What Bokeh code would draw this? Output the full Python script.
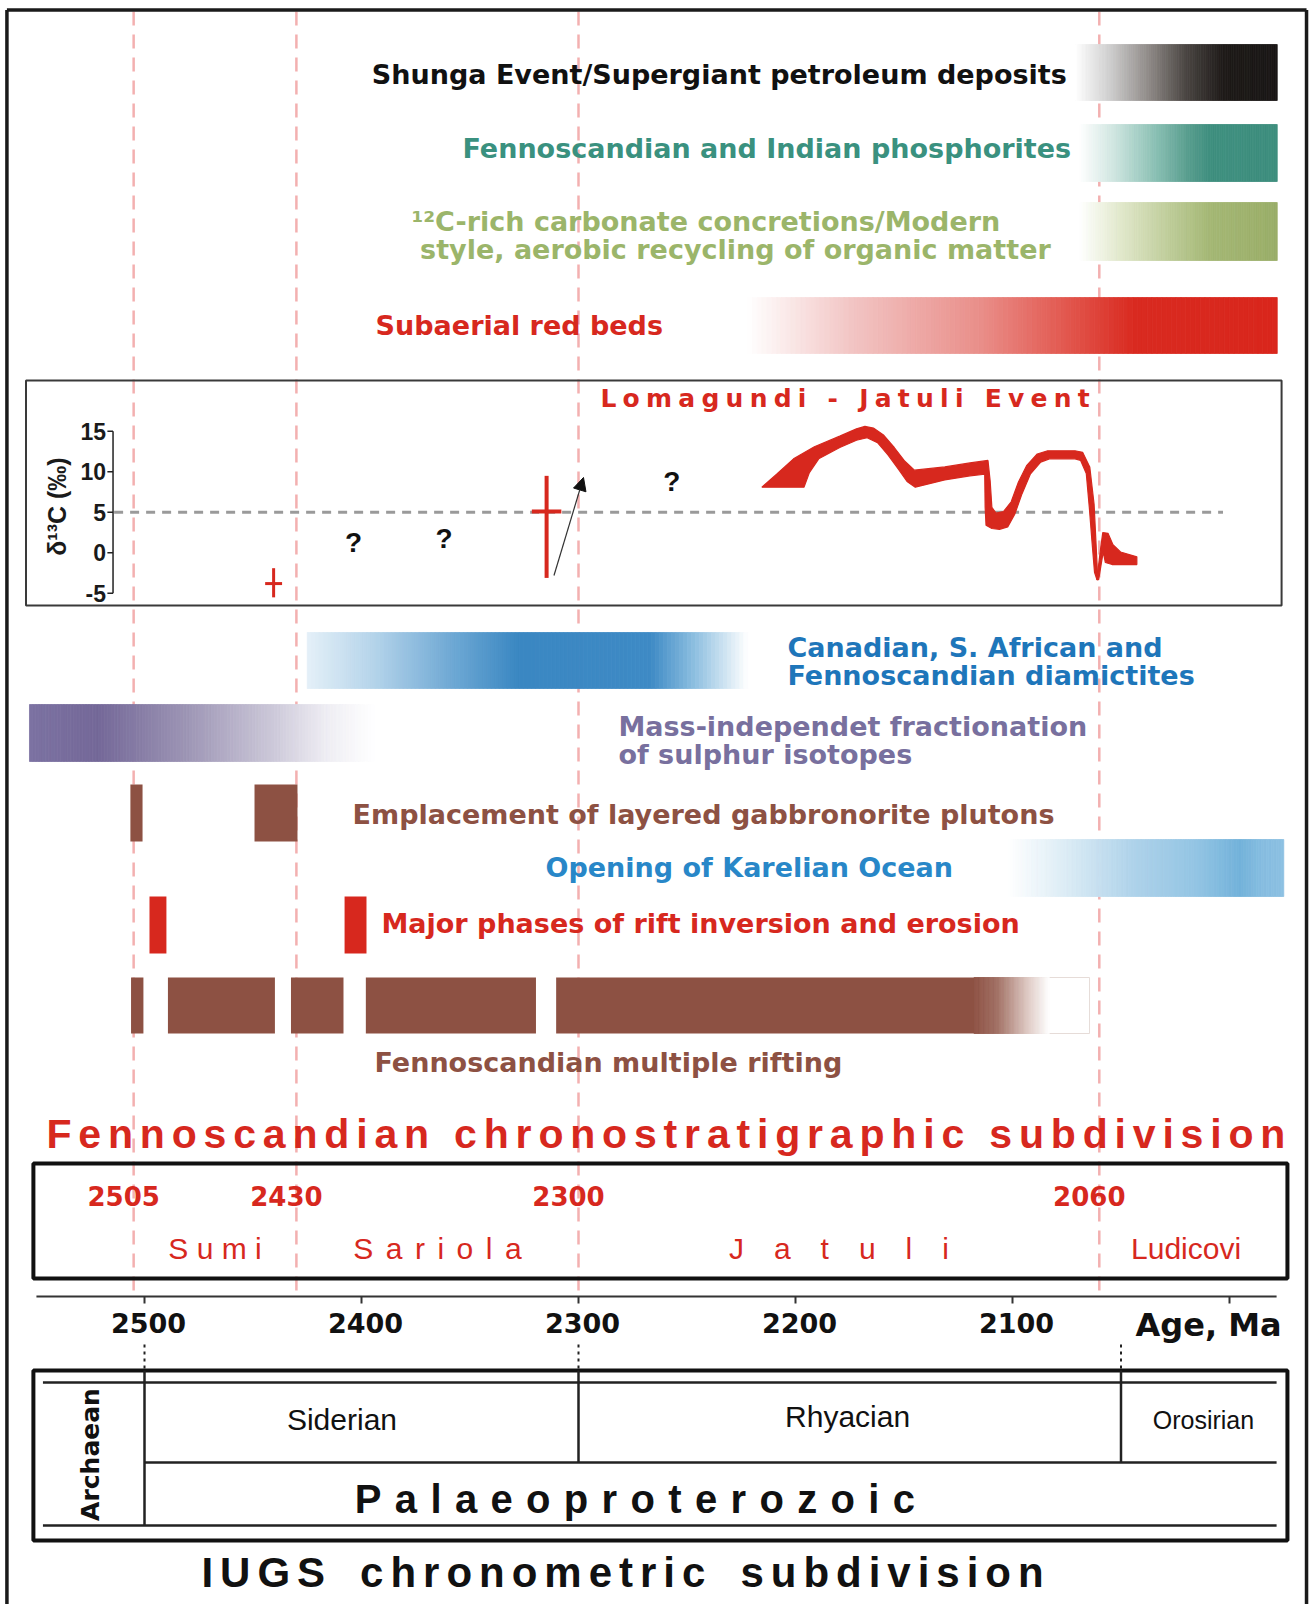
import numpy as np
from bokeh.plotting import figure
from bokeh.models import Range1d, Arrow, NormalHead
from bokeh.core.properties import value
from bokeh.embed import file_html
from bokeh.resources import INLINE

# ============================ DATA ============================
# Age axis (Ma)
age_ticks = [2500, 2400, 2300, 2200, 2100, 2000]
age_tick_labels = ["2500", "2400", "2300", "2200", "2100"]

# Fennoscandian chronostratigraphy
fenno_bounds = [2505, 2430, 2300, 2060]
fenno_bound_labels = ["2505", "2430", "2300", "2060"]
fenno_periods = ["Sumi", "Sariola", "Jatuli", "Ludicovi"]
fenno_period_limits = [2505, 2430, 2300, 2060, 1980]

# IUGS chronometric subdivision
iugs_bounds = [2500, 2300, 2050]
iugs_periods = ["Siderian", "Rhyacian", "Orosirian"]
iugs_period_centres = [2409, 2176, 2012]

# delta13C panel
d13c_ticks = [-5, 0, 5, 10, 15]
d13c_ref_level = 5
d13c_upper_age = [2215.5, 2208.7, 2200.9, 2191.3, 2179.6, 2171.9, 2168.0, 2164.1, 2159.3,
                  2154.5, 2149.6, 2145.2, 2131.2, 2119.6, 2111.3, 2110.3, 2109.5, 2107.6,
                  2104.1, 2100.6, 2097.3, 2093.4, 2088.6, 2083.8, 2071.2, 2067.7, 2064.4,
                  2062.4, 2061.5, 2060.7]
d13c_upper = [8.1, 9.7, 11.6, 13.1, 14.4, 15.3, 15.6, 15.4, 14.5, 13.0, 11.3, 10.2, 10.6,
              11.1, 11.4, 8.9, 5.6, 4.9, 5.1, 6.3, 8.7, 10.8, 12.2, 12.6, 12.6, 12.4, 10.6,
              6.0, 1.1, -3.3]
d13c_lower_age = [2215.5, 2196.1, 2193.6, 2189.3, 2179.6, 2171.9, 2167.0, 2162.2, 2157.4,
                  2152.5, 2148.6, 2144.8, 2131.2, 2119.6, 2112.8, 2112.6, 2112.2, 2109.5,
                  2106.0, 2102.2, 2098.9, 2095.6, 2091.8, 2087.0, 2083.0, 2071.2, 2068.6,
                  2066.0, 2064.6, 2063.4, 2062.2, 2061.1]
d13c_lower = [8.1, 8.1, 9.9, 11.6, 13.0, 13.9, 14.2, 13.6, 12.1, 10.3, 8.8, 8.1, 9.0,
              9.5, 9.7, 5.6, 3.4, 3.0, 2.9, 3.2, 4.8, 7.3, 9.7, 11.2, 11.6, 11.6, 11.4,
              9.8, 5.6, 1.5, -2.4, -3.3]
d13c_tail_age = [2061.1, 2059.5, 2058.4, 2056.0, 2053.7, 2050.2, 2042.7, 2042.7, 2054.1,
                 2057.2, 2058.2, 2060.3]
d13c_tail = [-3.3, 0.3, 2.5, 2.4, 1.0, 0.1, -0.5, -1.45, -1.45, -1.2, 0.1, -3.3]
cross_age = [2440.5, 2314.7]
cross_val = [-3.8, 5.1]
cross_lo = [-5.5, -3.1]
cross_hi = [-1.9, 9.5]
cross_halfwidth = [3.9, 6.8]
arrow_age = [2311.3, 2297.7]
arrow_val = [-2.8, 9.3]
query_age = [2403.7, 2362.0, 2257.0]
query_val = [1.3, 1.8, 8.8]

# event ranges (older age, younger age)
shunga_span = [2071, 1978]
phosphorite_span = [2069, 1978]
concretion_span = [2069, 1978]
redbed_span = [2222, 1978]
diamictite_span = [2425, 2222]
mif_span = [2553, 2394]
karelian_span = [2102, 1975]
gabbro_start = [2506.5, 2449.3]
gabbro_end = [2500.9, 2429.5]
inversion_start = [2497.7, 2407.8]
inversion_end = [2489.9, 2397.7]
rift_start = [2506.2, 2489.2, 2432.5, 2398.0, 2310.3]
rift_end = [2500.5, 2439.9, 2408.3, 2319.6, 2064.5]
rift_fade = [2117.7, 2083.0]

# ============================ LAYOUT / STYLE ============================
PX_PER_MA = 2.17
W, H = 1309, 1604
X_LEFT = 2500 + 144 / PX_PER_MA
X_RIGHT = X_LEFT - W / PX_PER_MA
Y_TOP, Y_BOT = 0, H
D_ZERO_ROW, D_ROW_PER_UNIT = 552.3, 8.1

RED = "#d7281e"
BROWN = "#8d5143"
BOLD = "DejaVu Sans"
ARIAL = "Liberation Sans"

p = figure(width=W, height=H, x_range=Range1d(X_LEFT, X_RIGHT), y_range=Range1d(Y_BOT, Y_TOP),
           output_backend="svg", toolbar_location=None, x_axis_location=None,
           y_axis_location=None, min_border=0, outline_line_color=None,
           background_fill_color="white", border_fill_color="white")
p.extra_y_ranges = {"d13c": Range1d((D_ZERO_ROW - Y_BOT) / D_ROW_PER_UNIT,
                                    (D_ZERO_ROW - Y_TOP) / D_ROW_PER_UNIT)}
p.xgrid.visible = False
p.ygrid.visible = False


def hex2rgb(c):
    return [int(c[i:i + 2], 16) for i in (1, 3, 5)]


def gradient_bar(span, top, bottom, stops, n=110):
    edges = np.linspace(span[0], span[1], n + 1)
    fr = [s[0] for s in stops]
    cols = np.array([hex2rgb(s[1]) for s in stops], float)
    t = (np.arange(n) + 0.5) / n
    colors = ["#%02x%02x%02x" % tuple(int(round(np.interp(ti, fr, cols[:, k]))) for k in range(3))
              for ti in t]
    p.quad(left=edges[:-1], right=edges[1:], top=top, bottom=bottom,
           fill_color=colors, line_color=colors, line_width=0.8)


def label(x, y, s, color, size, font=BOLD, style="bold", align="left", angle=0.0,
          yr="default", x_offset=0):
    p.text(x=[x], y=[y], text=[s], text_color=color, text_font=value(font),
           text_font_size=f"{size}px", text_font_style=style, text_align=align,
           text_baseline="middle", angle=angle, x_offset=x_offset, y_range_name=yr)


def spaced(s, sep, wsep):
    return wsep.join(sep.join(w) for w in s.split(" "))


# ---- pink dashed boundaries ----
p.segment(x0=fenno_bounds, y0=[Y_TOP + 11] * 4, x1=fenno_bounds, y1=[1296] * 4,
          line_color="#f3b0b0", line_width=2.5, line_dash="14 9")

# ---- outer frame ----
p.segment(x0=[2563.4, 2563.4, 1964.5], y0=[Y_BOT, 9.5, 9.5], x1=[2563.4, 1964.5, 1964.5],
          y1=[9.5, 9.5, Y_BOT], line_color="#1a1a1a", line_width=3.5)

# ---- top gradient bars ----
gradient_bar(shunga_span, 44, 100, [(0, "#ffffff"), (0.17, "#cfcfcf"), (0.38, "#8a8582"),
                                    (0.55, "#4a4542"), (0.74, "#1e1a18"), (1, "#1a1716")])
gradient_bar(phosphorite_span, 124, 181, [(0, "#ffffff"), (0.17, "#d0e6e1"), (0.38, "#8cc1b5"),
                                          (0.55, "#589d8e"), (0.66, "#3f8f7f"), (1, "#3e8e7e")])
gradient_bar(concretion_span, 202, 260, [(0, "#ffffff"), (0.2, "#e2e9cd"), (0.45, "#bfcd9a"),
                                         (0.66, "#a4b775"), (1, "#9aae68")])
gradient_bar(redbed_span, 297, 353, [(0, "#ffffff"), (0.2, "#f2c4c3"), (0.44, "#e98e89"),
                                     (0.6, "#e2584f"), (0.73, "#d92a20"), (1, "#d9261c")])

label(shunga_span[0] + 4, 74, "Shunga Event/Supergiant petroleum deposits", "#111111", 27,
      align="right")
label(phosphorite_span[0] + 4, 148, "Fennoscandian and Indian phosphorites", "#3a917f", 27,
      align="right")
label(2377, 221, "\u00b9\u00b2C-rich carbonate concretions/Modern", "#9bb56a", 27)
label(2373, 249, "style, aerobic recycling of organic matter", "#9bb56a", 27)
label(2393.5, 325, "Subaerial red beds", RED, 27)

# ---- delta13C panel ----
p.quad(left=2554.6, right=1976.0, top=380, bottom=605, fill_color=None,
       line_color="#3a3a3a", line_width=2)
label(2289.9, 398, spaced("Lomagundi - Jatuli Event", "\u2005", "\u2005 \u2005"), RED, 25)
p.segment(x0=[2514], y0=[d13c_ref_level], x1=[2003], y1=[d13c_ref_level],
          line_color="#9a9a9a", line_width=3, line_dash="9 7", y_range_name="d13c")
AX = 2514.5
p.segment(x0=[AX], y0=[min(d13c_ticks)], x1=[AX], y1=[max(d13c_ticks)], line_color="#222",
          line_width=1.5, y_range_name="d13c")
p.segment(x0=[AX] * len(d13c_ticks), y0=d13c_ticks, x1=[AX + 2.6] * len(d13c_ticks),
          y1=d13c_ticks, line_color="#222", line_width=1.5, y_range_name="d13c")
p.text(x=[AX] * len(d13c_ticks), y=d13c_ticks, text=[str(t) for t in d13c_ticks],
       text_color="#1a1a1a", text_font=value(ARIAL), text_font_size="23px",
       text_font_style="bold", text_align="right", text_baseline="middle", x_offset=-7,
       y_range_name="d13c")
label(2540.5, 5.7, "\u03b4\u00b9\u00b3C (\u2030)", "#1a1a1a", 25, font=ARIAL,
      angle=np.pi / 2, align="center", yr="d13c")

p.patch(x=d13c_upper_age + d13c_lower_age[::-1], y=d13c_upper + d13c_lower[::-1],
        fill_color=RED, line_color=RED, line_width=1.2, y_range_name="d13c")
p.patch(x=d13c_tail_age, y=d13c_tail, fill_color=RED, line_color=RED, line_width=1.2,
        y_range_name="d13c")
p.segment(x0=cross_age, y0=cross_lo, x1=cross_age, y1=cross_hi, line_color=RED,
          line_width=[3, 4], y_range_name="d13c")
p.segment(x0=[a + h for a, h in zip(cross_age, cross_halfwidth)], y0=cross_val,
          x1=[a - h for a, h in zip(cross_age, cross_halfwidth)], y1=cross_val,
          line_color=RED, line_width=[3, 4], y_range_name="d13c")
p.add_layout(Arrow(end=NormalHead(size=13, fill_color="#111", line_color="#111", line_width=1),
                   x_start=arrow_age[0], y_start=arrow_val[0], x_end=arrow_age[1],
                   y_end=arrow_val[1], line_color="#333", line_width=1.2,
                   y_range_name="d13c"))
p.text(x=query_age, y=query_val, text=["?"] * 3, text_color="#111",
       text_font=value(ARIAL), text_font_size="28px", text_font_style="bold",
       text_align="center", text_baseline="middle", y_range_name="d13c")

# ---- middle gradient bars ----
gradient_bar(diamictite_span, 632, 688, [(0, "#e4f0f8"), (0.15, "#b5d4ea"), (0.33, "#6ea8d4"),
                                         (0.48, "#3a87c2"), (0.78, "#3e8ac5"), (0.88, "#8dbfe0"),
                                         (1, "#ffffff")])
label(2203.7, 647, "Canadian, S. African and", "#1e76ba", 27)
label(2203.7, 675, "Fennoscandian diamictites", "#1e76ba", 27)

gradient_bar(mif_span, 704, 761, [(0, "#7c72a2"), (0.2, "#746898"), (0.45, "#9c94b4"),
                                  (0.7, "#cbc7d8"), (0.86, "#eeedf3"), (1, "#ffffff")])
label(2281.6, 726, "Mass-independet fractionation", "#78709e", 27)
label(2281.6, 754, "of sulphur isotopes", "#78709e", 27)

p.quad(left=gabbro_start, right=gabbro_end, top=784, bottom=841, fill_color=BROWN,
       line_color=None)
label(2404.1, 814, "Emplacement of layered gabbronorite plutons", BROWN, 27)

gradient_bar(karelian_span, 839, 896, [(0, "#ffffff"), (0.23, "#d8eaf4"), (0.46, "#aed2ea"),
                                       (0.69, "#92c4e3"), (0.84, "#72b2da"), (0.92, "#86bde0"),
                                       (1, "#8cc0e2")])
label(2315.2, 867, "Opening of Karelian Ocean", "#2887c8", 27)

p.quad(left=inversion_start, right=inversion_end, top=896, bottom=953, fill_color=RED,
       line_color=None)
label(2390.8, 923, "Major phases of rift inversion and erosion", RED, 27)

p.quad(left=[rift_fade[0]], right=[rift_end[-1]], top=977, bottom=1033, fill_color=None,
       line_color="#e6dcd8", line_width=1)
p.quad(left=rift_start[:-1] + [rift_start[-1]], right=rift_end[:-1] + [rift_fade[0]],
       top=977, bottom=1033, fill_color=BROWN, line_color=None)
gradient_bar(rift_fade, 977, 1033, [(0, BROWN), (0.3, "#a06e62"), (0.7, "#dcc6c0"),
                                    (1, "#ffffff")], n=60)
label(2394, 1062, "Fennoscandian multiple rifting", BROWN, 27)

# ---- Fennoscandian chronostratigraphic subdivision ----
label(2545.2, 1133, spaced("Fennoscandian chronostratigraphic subdivision", "\u2006",
                           "\u2006 \u2006"), RED, 41, font=ARIAL, style="bold")
p.quad(left=2551.2, right=1973.3, top=1163, bottom=1278, fill_color=None,
       line_color="#111", line_width=4)
p.text(x=fenno_bounds, y=[1195] * 4, text=fenno_bound_labels, text_color=RED,
       text_font=value(BOLD), text_font_size="26px", text_font_style="bold",
       text_align="center", text_baseline="middle", x_offset=-10)
period_seps = [" ", "\u2005\u2006", "\u2003", ""]
for i, name in enumerate(fenno_periods):
    mid = 0.5 * (fenno_period_limits[i] + fenno_period_limits[i + 1])
    label(mid, 1248, spaced(name, period_seps[i], " "), RED, 30, font=ARIAL, style="normal",
          align="center")

# ---- age axis ----
p.segment(x0=[2549.8], y0=[1296], x1=[1978.3], y1=[1296], line_color="#333", line_width=2)
p.segment(x0=age_ticks, y0=[1296] * 6, x1=age_ticks, y1=[1303] * 6, line_color="#333",
          line_width=2)
p.text(x=age_ticks[:len(age_tick_labels)], y=[1322] * len(age_tick_labels),
       text=age_tick_labels, text_color="#111", text_font=value(BOLD),
       text_font_size="27px", text_font_style="bold", text_align="center",
       text_baseline="middle", x_offset=4)
label(2043.3, 1324, "Age, Ma", "#111", 32)

# ---- IUGS chronometric subdivision ----
p.segment(x0=iugs_bounds, y0=[1344] * 3, x1=iugs_bounds, y1=[1370] * 3, line_color="#222",
          line_width=2, line_dash="3 4")
p.quad(left=2551.2, right=1973.3, top=1370, bottom=1540, fill_color=None, line_color="#111",
       line_width=4)
p.segment(x0=[2546.8, 2546.8, iugs_bounds[0]], y0=[1382, 1525, 1462],
          x1=[1978.3, 1978.3, 1978.3], y1=[1382, 1525, 1462], line_color="#222", line_width=2.5)
p.segment(x0=iugs_bounds, y0=[1370] * 3, x1=iugs_bounds, y1=[1525, 1462, 1462],
          line_color="#222", line_width=2.5)
label(2524.9, 1454, "Archaean", "#111", 25, angle=np.pi / 2, align="center")
iugs_sizes = [30, 30, 25]
iugs_rows = [1419, 1416, 1419]
for name, cx, sz, ry in zip(iugs_periods, iugs_period_centres, iugs_sizes, iugs_rows):
    label(cx, ry, name, "#111", sz, font=ARIAL, style="normal", align="center")
label(2274, 1498, spaced("Palaeoproterozoic", "\u2004", " "), "#111", 40, font=ARIAL,
      align="center")
label(2279.7, 1572, spaced("IUGS chronometric subdivision", "\u2006", "\u2006\u2002\u2006"),
      "#111", 42, font=ARIAL, align="center")

open("out.html", "w").write(file_html(p, INLINE))
